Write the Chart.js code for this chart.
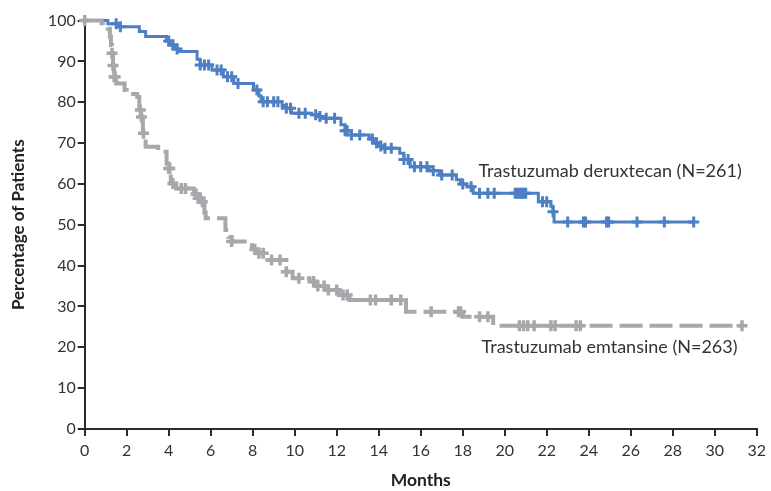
<!DOCTYPE html>
<html>
<head>
<meta charset="utf-8">
<script src="https://cdn.jsdelivr.net/npm/chart.js@4.4.1/dist/chart.umd.min.js"></script>
<style>
  html, body { margin: 0; padding: 0; background: #ffffff; }
  #wrap { width: 771px; height: 491px; position: relative; }
</style>
</head>
<body>
<div id="wrap"><canvas id="c" width="771" height="491"></canvas></div>
<script>
// ---- Data (months, % of patients) ----
const xTicks = [0, 2, 4, 6, 8, 10, 12, 14, 16, 18, 20, 22, 24, 26, 28, 30, 32];
const yTicks = [0, 10, 20, 30, 40, 50, 60, 70, 80, 90, 100];

// Trastuzumab deruxtecan (N=261): step points (time of drop, value after drop)
const tddTimes = [0, 1.1, 1.6, 2.6, 2.9, 3.9, 4.1, 4.3, 4.5, 5.35, 5.5, 6.06, 6.6, 7.1, 8.04, 8.3, 8.4, 9.4, 9.6, 9.85, 10.8, 11.1, 11.4, 12.2, 12.4, 12.7, 13.55, 13.8, 14.0, 14.2, 15.0, 15.2, 15.5, 16.4, 16.9, 17.7, 17.9, 18.2, 18.5, 21.6, 22.2, 22.3, 22.35, 29.0];
const tddPct   = [100, 99.2, 98.5, 97.3, 96.1, 95.0, 94.0, 93.0, 92.4, 90.5, 89.1, 87.9, 86.2, 84.6, 83.0, 81.5, 80.1, 79.2, 78.5, 77.3, 76.9, 76.5, 76.1, 74.5, 73.0, 72.0, 71.0, 70.0, 69.3, 68.7, 67.5, 66.0, 64.2, 63.2, 62.2, 61.0, 60.0, 59.3, 57.7, 55.6, 54.5, 53.2, 50.7, 50.7];
const tddCensor = [1.5, 1.7, 4.0, 4.2, 4.4, 5.5, 5.7, 5.9, 6.3, 6.5, 6.8, 7.0, 7.3, 8.2, 8.5, 8.7, 9.0, 9.2, 9.6, 9.8, 10.2, 10.5, 11.0, 11.2, 11.5, 11.9, 12.4, 12.5, 12.7, 13.1, 13.7, 13.9, 14.1, 14.3, 14.6, 15.2, 15.4, 15.7, 16.0, 16.3, 16.6, 17.0, 17.5, 18.0, 18.4, 18.8, 19.2, 19.5, 20.5, 20.6, 20.7, 20.8, 20.9, 21.0, 21.8, 22.0, 22.3, 23.0, 23.75, 23.85, 24.85, 24.95, 26.3, 27.6, 29.0];

// Trastuzumab emtansine (N=263)
const tdmTimes = [0, 0.8, 0.96, 1.1, 1.2, 1.25, 1.3, 1.35, 1.4, 1.5, 1.9, 2.0, 2.5, 2.6, 2.7, 2.77, 2.9, 3.5, 3.9, 4.0, 4.1, 4.35, 5.2, 5.4, 5.6, 5.7, 5.76, 6.7, 6.85, 7.0, 7.96, 8.2, 8.6, 9.6, 9.9, 10.7, 11.0, 11.5, 12.1, 12.6, 15.3, 18.0, 19.45, 31.3];
const tdmPct   = [100, 99.3, 98.9, 98.0, 96.0, 94.0, 92.0, 89.0, 86.2, 84.6, 83.0, 82.0, 81.3, 78.1, 76.4, 72.4, 69.1, 67.9, 65.0, 63.8, 60.1, 58.9, 57.5, 56.5, 55.6, 53.0, 51.6, 48.7, 47.0, 45.9, 44.0, 43.0, 41.4, 38.5, 36.9, 36.1, 35.0, 34.0, 32.8, 31.6, 28.7, 27.5, 25.3, 25.3];
const tdmCensor = [0, 1.3, 1.35, 1.4, 1.45, 2.65, 2.7, 2.8, 4.0, 4.05, 4.2, 4.6, 4.8, 5.3, 5.4, 5.5, 5.6, 7.0, 8.1, 8.3, 8.5, 8.9, 9.3, 9.6, 10.2, 10.9, 11.1, 11.4, 11.6, 12.0, 12.3, 12.5, 13.6, 13.85, 14.6, 15.05, 16.5, 17.8, 17.9, 18.8, 19.2, 20.7, 20.9, 21.1, 21.4, 22.2, 22.4, 23.4, 23.6, 31.3];

const seriesNames = ['Trastuzumab deruxtecan (N=261)', 'Trastuzumab emtansine (N=263)'];

// ---- helpers ----
function stepPoints(times, pct) { return times.map((t, i) => ({ x: t, y: pct[i] })); }
function censorPoints(cens, times, pct) {
  return cens.map(t => {
    let v = pct[0];
    for (let i = 0; i < times.length; i++) { if (times[i] <= t) v = pct[i]; }
    return { x: t, y: v };
  });
}

const BLUE = '#4f7fc3';
const GRAY = '#a6a8ab';
const INK = '#2b2b2b';
const FONT = 'Lato, "Open Sans", "DejaVu Sans", sans-serif';

const labelPlugin = {
  id: 'curveLabels',
  afterDatasetsDraw(chart) {
    const { ctx, scales: { x, y } } = chart;
    ctx.save();
    ctx.fillStyle = '#333333';
    ctx.font = '18px ' + FONT;
    ctx.textBaseline = 'alphabetic';
    ctx.textAlign = 'left';
    ctx.fillText(seriesNames[0], x.getPixelForValue(18.75), y.getPixelForValue(61.8));
    ctx.fillText(seriesNames[1], x.getPixelForValue(18.9), y.getPixelForValue(18.5));
    ctx.restore();
  }
};

new Chart(document.getElementById('c'), {
  type: 'scatter',
  data: {
    datasets: [
      {
        label: seriesNames[1],
        data: stepPoints(tdmTimes, tdmPct),
        showLine: true, stepped: 'before',
        borderColor: GRAY, borderWidth: 4, borderDash: [23, 7],
        pointRadius: 0, clip: false, order: 1
      },
      {
        label: seriesNames[1] + ' censored',
        data: censorPoints(tdmCensor, tdmTimes, tdmPct),
        showLine: false, pointStyle: 'cross', pointRadius: 5.5,
        borderColor: GRAY, backgroundColor: GRAY, pointBorderWidth: 3.5, clip: false, order: 1
      },
      {
        label: seriesNames[0],
        data: stepPoints(tddTimes, tddPct),
        showLine: true, stepped: 'before',
        borderColor: BLUE, borderWidth: 3,
        pointRadius: 0, clip: false, order: 2
      },
      {
        label: seriesNames[0] + ' censored',
        data: censorPoints(tddCensor, tddTimes, tddPct),
        showLine: false, pointStyle: 'cross', pointRadius: 5.5,
        borderColor: BLUE, backgroundColor: BLUE, pointBorderWidth: 3, clip: false, order: 2
      }
    ]
  },
  options: {
    responsive: false,
    animation: false,
    devicePixelRatio: 1,
    layout: { padding: { left: 0, right: 8.7, top: 20.5, bottom: 0 } },
    plugins: { legend: { display: false }, tooltip: { enabled: false }, title: { display: false } },
    scales: {
      x: {
        type: 'linear', min: 0, max: 32,
        afterFit: s => { s.height = 62; },
        afterBuildTicks: s => { s.ticks = xTicks.map(v => ({ value: v })); },
        grid: { display: true, drawOnChartArea: false, drawTicks: true, tickLength: 7, color: INK, lineWidth: 2 },
        border: { display: true, color: INK, width: 2 },
        ticks: { color: '#333333', font: { family: FONT, size: 16 }, padding: 5, maxRotation: 0 },
        title: { display: true, text: 'Months', color: '#222222', font: { family: FONT, size: 17.5, weight: 'bold' }, padding: { top: 0, bottom: 0 } }
      },
      y: {
        type: 'linear', min: 0, max: 100,
        afterFit: s => { s.width = 84.7; },
        afterBuildTicks: s => { s.ticks = yTicks.map(v => ({ value: v })); },
        grid: { display: true, drawOnChartArea: false, drawTicks: true, tickLength: 7, color: INK, lineWidth: 2 },
        border: { display: true, color: INK, width: 2 },
        ticks: { color: '#333333', font: { family: FONT, size: 16 }, padding: 2 },
        title: { display: true, text: 'Percentage of Patients', color: '#222222', font: { family: FONT, size: 17, weight: 'bold' }, padding: { top: 8, bottom: 0 } }
      }
    }
  },
  plugins: [labelPlugin]
});
</script>
</body>
</html>
